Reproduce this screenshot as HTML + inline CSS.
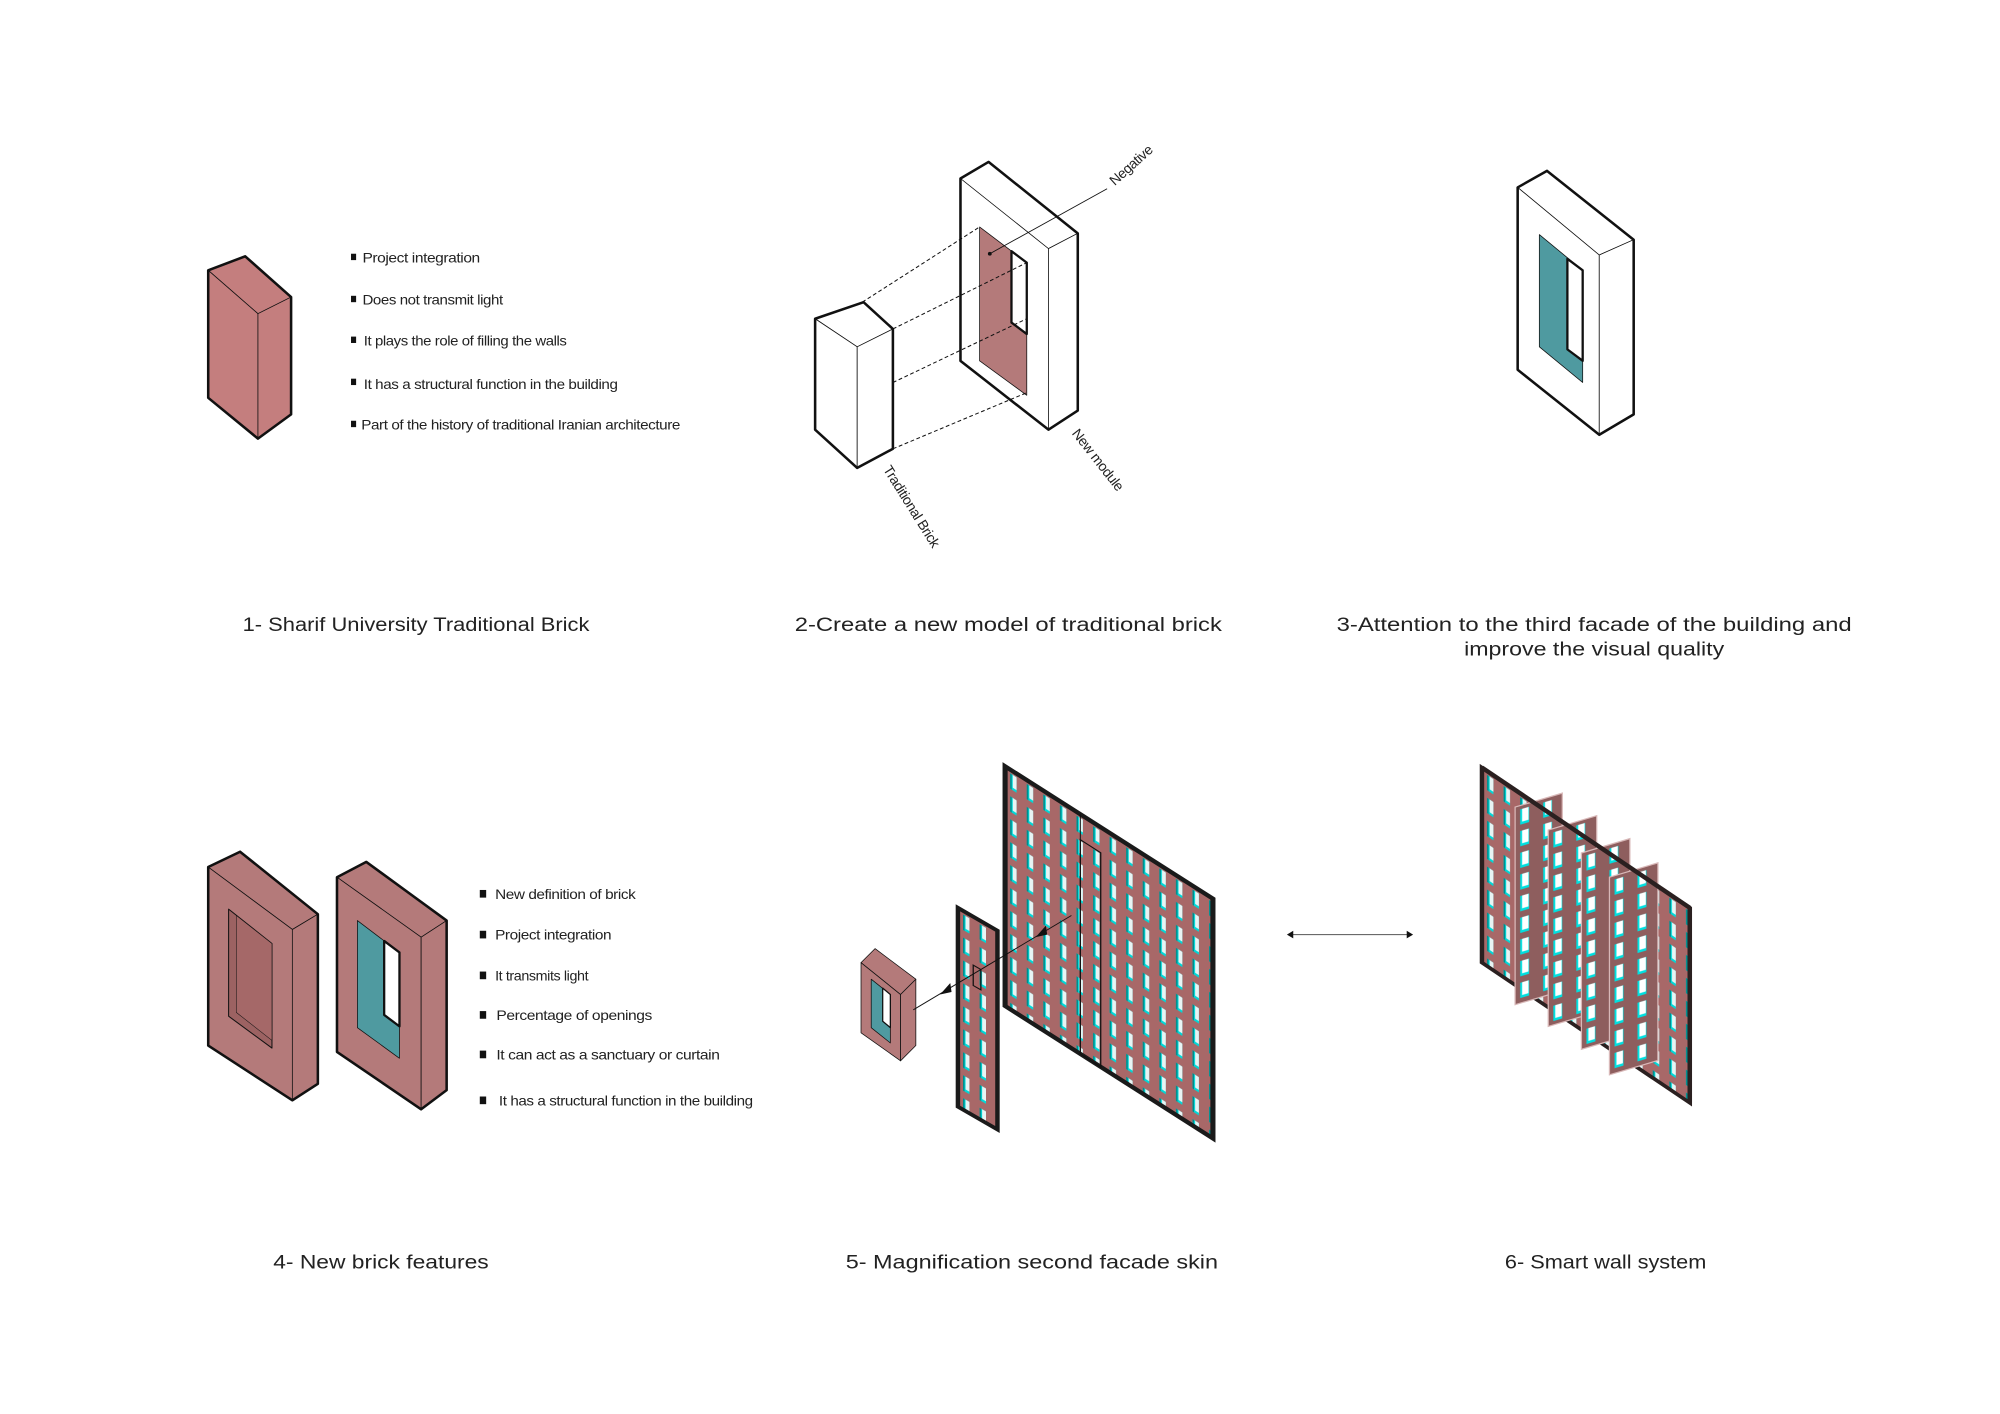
<!DOCTYPE html>
<html><head><meta charset="utf-8"><style>
html,body{margin:0;padding:0;background:#fff;}
svg{display:block;}
.t{font-family:"Liberation Sans",sans-serif;font-size:15px;fill:#222;}
.b{font-family:"Liberation Sans",sans-serif;font-size:11px;fill:#222;letter-spacing:-0.3px;}
</style></head><body>
<svg width="2000" height="1414" viewBox="0 0 1568 1109" xmlns="http://www.w3.org/2000/svg">
<defs>
<pattern id="g1" width="13" height="18" patternUnits="userSpaceOnUse">
<rect width="13" height="18" fill="#a86868"/>
<rect x="4" y="3" width="5" height="12" fill="#00d8d8"/>
<rect x="6" y="3" width="3" height="10" fill="#e8f4f4"/>
<rect x="4" y="3" width="1.2" height="12" fill="#008c8c"/>
</pattern>
<pattern id="g2" width="18" height="17" patternUnits="userSpaceOnUse">
<rect width="18" height="17" fill="#8e5e5e"/>
<rect x="4" y="3" width="7" height="12" fill="#00e0e0"/>
<rect x="5.5" y="3" width="5" height="10" fill="#ffffff"/>
</pattern>
</defs>
<rect width="1568" height="1109" fill="#fff"/>

<!-- Diagram 1 -->
<g stroke="#111" stroke-linejoin="round">
<polygon points="163,212 192,201 228,233 202,246" fill="#c47e7e" stroke-width="0.6"/>
<polygon points="163,212 202,246 202,344 163,312" fill="#c47e7e" stroke-width="0.6"/>
<polygon points="202,246 228,233 228,325 202,344" fill="#c47e7e" stroke-width="0.6"/>
<polygon points="163,212 192,201 228,233 228,325 202,344 163,312" fill="none" stroke-width="2"/>
</g>
<g fill="#111">
<rect x="275" y="199" width="4" height="5"/><rect x="275" y="232" width="4" height="5"/><rect x="275" y="264" width="4" height="5"/><rect x="275" y="297" width="4" height="5"/><rect x="275" y="330" width="4" height="5"/>
</g>
<text class="b" x="284" y="206" textLength="92" lengthAdjust="spacingAndGlyphs">Project integration</text>
<text class="b" x="284" y="239" textLength="110" lengthAdjust="spacingAndGlyphs">Does not transmit light</text>
<text class="b" x="285" y="271" textLength="159" lengthAdjust="spacingAndGlyphs">It plays the role of filling the walls</text>
<text class="b" x="285" y="305" textLength="199" lengthAdjust="spacingAndGlyphs">It has a structural function in the building</text>
<text class="b" x="283" y="337" textLength="250" lengthAdjust="spacingAndGlyphs">Part of the history of traditional Iranian architecture</text>

<!-- Diagram 2 -->
<g stroke="#111" stroke-linejoin="round" fill="#fff">
<polygon points="753,140 775,127 845,183 822,195" stroke-width="0.6"/>
<polygon points="753,140 822,195 822,337 753,283" stroke-width="0.6"/>
<polygon points="822,195 845,183 845,322 822,337" stroke-width="0.6"/>
<polygon points="768,178 805,206 805,310 768,283" fill="#b47a7a" stroke-width="0.6"/>
<polygon points="793,197 805,206 805,262 793,253" fill="#fff" stroke-width="1.8"/>
<polygon points="753,140 775,127 845,183 845,322 822,337 753,283" fill="none" stroke-width="2"/>
</g>
<g stroke="#111" stroke-width="0.8" stroke-dasharray="3,2" fill="none">
<line x1="676" y1="237" x2="768" y2="178"/>
<line x1="700" y1="258" x2="805" y2="206"/>
<line x1="700" y1="300" x2="805" y2="250"/>
<line x1="700" y1="352" x2="805" y2="308"/>
</g>
<g stroke="#111" stroke-linejoin="round" fill="#fff">
<polygon points="639,250 677,237 700,258 672,272" stroke-width="0.6"/>
<polygon points="639,250 672,272 672,367 639,337" stroke-width="0.6"/>
<polygon points="672,272 700,258 700,352 672,367" stroke-width="0.6"/>
<polygon points="639,250 677,237 700,258 700,352 672,367 639,337" fill="none" stroke-width="2"/>
</g>
<line x1="776" y1="199" x2="868" y2="148" stroke="#111" stroke-width="0.7"/>
<circle cx="776" cy="199" r="1.5" fill="#111"/>
<text class="b" transform="translate(874,146) rotate(-42)">Negative</text>
<text class="b" transform="translate(840,340) rotate(52)">New module</text>
<text class="b" transform="translate(692,368) rotate(58)">Traditional Brick</text>

<!-- Diagram 3 -->
<g stroke="#111" stroke-linejoin="round" fill="#fff">
<polygon points="1190,147 1213,134 1281,188 1254,200" stroke-width="0.6"/>
<polygon points="1190,147 1254,200 1254,341 1190,290" stroke-width="0.6"/>
<polygon points="1254,200 1281,188 1281,325 1254,341" stroke-width="0.6"/>
<polygon points="1207,184 1241,212 1241,300 1207,272" fill="#4f9aa0" stroke-width="0.6"/>
<polygon points="1229,203 1241,212 1241,283 1229,274" fill="#fff" stroke-width="1.8"/>
<polygon points="1190,147 1213,134 1281,188 1281,325 1254,341 1190,290" fill="none" stroke-width="2"/>
</g>

<!-- Titles row 1 -->
<text class="t" x="190" y="495" textLength="272" lengthAdjust="spacingAndGlyphs">1- Sharif University Traditional Brick</text>
<text class="t" x="623" y="495" textLength="335" lengthAdjust="spacingAndGlyphs">2-Create  a new model of traditional brick</text>
<text class="t" x="1048" y="495" textLength="404" lengthAdjust="spacingAndGlyphs">3-Attention to the third facade of the building and</text>
<text class="t" x="1148" y="514" textLength="204" lengthAdjust="spacingAndGlyphs">improve the visual quality</text>

<!-- Diagram 4 -->
<g stroke="#111" stroke-linejoin="round" fill="#b47a7a">
<polygon points="163,680 188,668 249,717 229,729" stroke-width="0.6"/>
<polygon points="163,680 229,729 229,863 163,820" stroke-width="0.6"/>
<polygon points="229,729 249,717 249,850 229,863" stroke-width="0.6"/>
<polygon points="179,713 213,740 213,822 179,797" fill="#9c6262" stroke-width="0.8"/>
<polygon points="185,718 213,740 213,816 185,794" fill="#a56868" stroke-width="0.4"/>
<polygon points="163,680 188,668 249,717 249,850 229,863 163,820" fill="none" stroke-width="2"/>
<polygon points="264,688 287,676 350,722 330,735" stroke-width="0.6"/>
<polygon points="264,688 330,735 330,870 264,825" stroke-width="0.6"/>
<polygon points="330,735 350,722 350,855 330,870" stroke-width="0.6"/>
<polygon points="280,722 313,747 313,830 280,806" fill="#4f9aa0" stroke-width="0.6"/>
<polygon points="301,738 313,747 313,805 301,796" fill="#fff" stroke-width="1.8"/>
<polygon points="264,688 287,676 350,722 350,855 330,870 264,825" fill="none" stroke-width="2"/>
</g>
<g fill="#111">
<rect x="376" y="698" width="5" height="6"/><rect x="376" y="730" width="5" height="6"/><rect x="376" y="762" width="5" height="6"/><rect x="376" y="793" width="5" height="6"/><rect x="376" y="824" width="5" height="6"/><rect x="376" y="860" width="5" height="6"/>
</g>
<text class="b" x="388" y="705" textLength="110" lengthAdjust="spacingAndGlyphs">New definition of brick</text>
<text class="b" x="388" y="737" textLength="91" lengthAdjust="spacingAndGlyphs">Project integration</text>
<text class="b" x="388" y="769" textLength="73" lengthAdjust="spacingAndGlyphs">It transmits light</text>
<text class="b" x="389" y="800" textLength="122" lengthAdjust="spacingAndGlyphs">Percentage of openings</text>
<text class="b" x="389" y="831" textLength="175" lengthAdjust="spacingAndGlyphs">It can act as a sanctuary or curtain</text>
<text class="b" x="391" y="867" textLength="199" lengthAdjust="spacingAndGlyphs">It has a structural function in the building</text>

<!-- Diagram 5 -->
<g stroke="#111" stroke-linejoin="round" fill="#b47a7a">
<polygon points="675,755 686,744 718,768 706,780" stroke-width="0.6"/>
<polygon points="675,755 706,780 706,832 675,810" stroke-width="0.6"/>
<polygon points="706,780 718,768 718,820 706,832" stroke-width="0.6"/>
<polygon points="683,768 698,780 698,818 683,806" fill="#4f9aa0" stroke-width="0.6"/>
<polygon points="692,775 698,780 698,806 692,801" fill="#fff" stroke-width="1"/>
</g>
<g transform="translate(751,712) skewY(30)">
<rect x="0" y="0" width="31" height="156" fill="url(#g1)" stroke="#1a1a1a" stroke-width="3.5"/>
<rect x="12" y="38" width="6" height="16" fill="none" stroke="#111" stroke-width="1"/>
</g>
<g transform="translate(788,601) skewY(32.5)">
<rect x="0" y="0" width="163" height="188" fill="url(#g1)" stroke="#1a1a1a" stroke-width="4"/>
<line x1="59" y1="0" x2="59" y2="188" stroke="#111" stroke-width="0.8"/>
<rect x="59" y="20" width="16" height="168" fill="none" stroke="#111" stroke-width="1"/>
</g>
<line x1="716" y1="792" x2="840" y2="718" stroke="#111" stroke-width="0.7"/>
<polygon points="737,780 745,771 746,778" fill="#111"/>
<polygon points="812,735 820,726 821,733" fill="#111"/>

<!-- double arrow -->
<line x1="1012" y1="733" x2="1105" y2="733" stroke="#555" stroke-width="0.8"/>
<polygon points="1009,733 1014,730 1014,736" fill="#111"/>
<polygon points="1108,733 1103,730 1103,736" fill="#111"/>

<!-- Diagram 6 -->
<g transform="translate(1162,602) skewY(34)">
<rect x="0" y="0" width="163" height="153" fill="url(#g1)" stroke="#2a2020" stroke-width="3.5"/>
</g>
<g>
<g transform="translate(1188,633) skewY(-16.5)"><rect x="0" y="0" width="37" height="155" fill="url(#g2)" stroke="#d8b8b8" stroke-width="1"/></g>
<g transform="translate(1214,651) skewY(-16.5)"><rect x="0" y="0" width="38" height="154" fill="url(#g2)" stroke="#d8b8b8" stroke-width="1"/></g>
<g transform="translate(1240,669) skewY(-16.5)"><rect x="0" y="0" width="38" height="154" fill="url(#g2)" stroke="#d8b8b8" stroke-width="1"/></g>
<g transform="translate(1262,688) skewY(-16.5)"><rect x="0" y="0" width="38" height="155" fill="url(#g2)" stroke="#d8b8b8" stroke-width="1"/></g>
</g>
<line x1="1162" y1="602" x2="1325" y2="712" stroke="#2a2020" stroke-width="3.5"/>
<line x1="1325" y1="712" x2="1325" y2="865" stroke="#2a2020" stroke-width="3.5"/>

<!-- Titles row 2 -->
<text class="t" x="214" y="995" textLength="169" lengthAdjust="spacingAndGlyphs">4- New brick features</text>
<text class="t" x="663" y="995" textLength="292" lengthAdjust="spacingAndGlyphs">5- Magnification second facade skin</text>
<text class="t" x="1180" y="995" textLength="158" lengthAdjust="spacingAndGlyphs">6- Smart wall system</text>
</svg>
</body></html>
